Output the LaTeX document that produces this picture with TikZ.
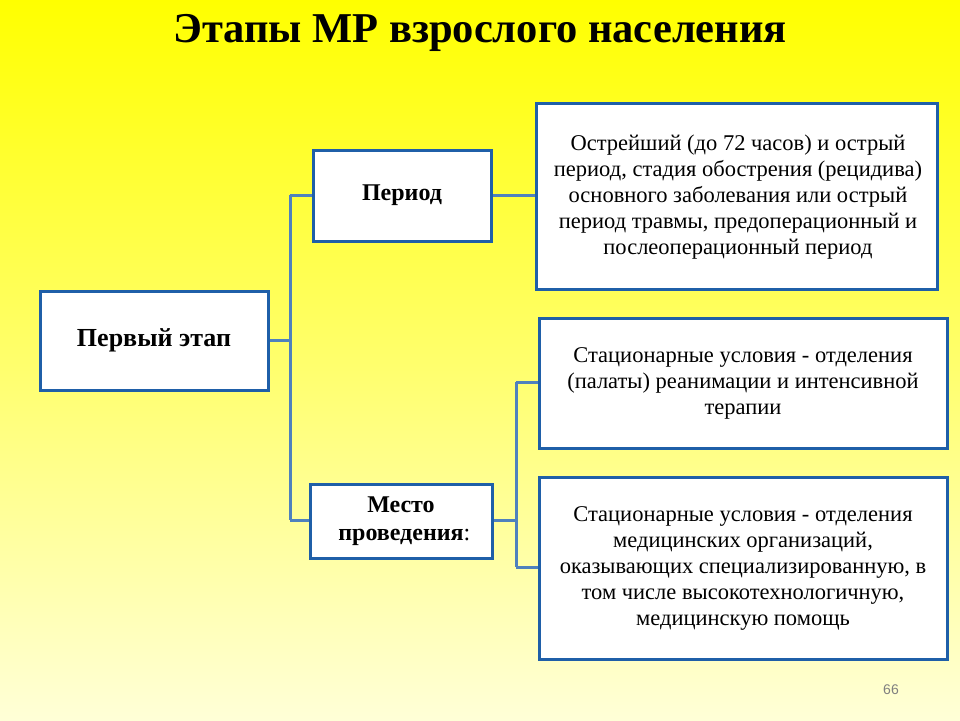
\documentclass[tikz,border=0pt]{standalone}
\usepackage{fontspec}
\setmainfont{Liberation Serif}
\newfontfamily\numfont{Liberation Sans}
\usetikzlibrary{shadows}
\definecolor{bord}{HTML}{1F5FA8}
\definecolor{conn}{HTML}{4F81BD}
\tikzset{box/.style={draw=bord,line width=3pt,fill=white,align=center,inner sep=0pt,
  drop shadow={shadow xshift=2pt,shadow yshift=-2pt,opacity=0.35}},
  txt/.style={font=\fontsize{22.5}{26}\selectfont},
  bt/.style={font=\bfseries\fontsize{24}{28}\selectfont},
  ln/.style={conn,line width=3pt}}
\begin{document}
\begin{tikzpicture}[x=1pt,y=-1pt]
\shade[top color=yellow,bottom color={rgb,255:red,255;green,255;blue,215}] (0,0) rectangle (960,720);
\useasboundingbox (0,0) rectangle (960,720);
\node[font=\bfseries\fontsize{42.5}{48}\selectfont] (title) at (480,33) {Этапы МР взрослого населения};
% connectors
\coordinate (j1) at (290,340);
\coordinate (j1t) at (290,195);
\coordinate (j1b) at (290,520);
\coordinate (j2) at (516,520);
\coordinate (j2t) at (516,382);
\coordinate (j2b) at (516,567);
\draw[ln] (268,340) -- (j1);
\draw[ln] (j1t) -- (j1b);
\draw[ln] (j1t) -- (313,195);
\draw[ln] (j1b) -- (310,520);
\draw[ln] (491,195) -- (536,195);
\draw[ln] (492,520) -- (j2);
\draw[ln] (j2t) -- (j2b);
\draw[ln] (j2t) -- (539,382);
\draw[ln] (j2b) -- (539,567);
% boxes
\node[box,minimum width=228,minimum height=99,font=\bfseries\fontsize{26}{30}\selectfont] (a) at (154,340.5) {Первый этап};
\node[box,minimum width=178,minimum height=91,bt] (b) at (402,195.5) {Период};
\node[box,minimum width=182,minimum height=74,bt] (c) at (401,521) {Место\\проведения\rlap{\mdseries:}};
\node[box,minimum width=401,minimum height=186] (d) at (736.5,196) {};
\node[txt,align=center] (dt) at (738,197) {Острейший (до 72 часов) и острый\\период, стадия обострения (рецидива)\\основного заболевания или острый\\период травмы, предоперационный и\\послеоперационный период};
\node[box,minimum width=408,minimum height=130] (e) at (743,383) {};
\node[txt,align=center] (et) at (743,383) {Стационарные условия - отделения\\(палаты) реанимации и интенсивной\\терапии};
\node[box,minimum width=408,minimum height=182] (f) at (743,568) {};
\node[txt,align=center] (ft) at (743,568) {Стационарные условия - отделения\\медицинских организаций,\\оказывающих специализированную, в\\том числе высокотехнологичную,\\медицинскую помощь};
\node[font=\numfont\fontsize{14}{16}\selectfont,text=gray] (pg) at (891,690) {66};
\end{tikzpicture}
\end{document}
